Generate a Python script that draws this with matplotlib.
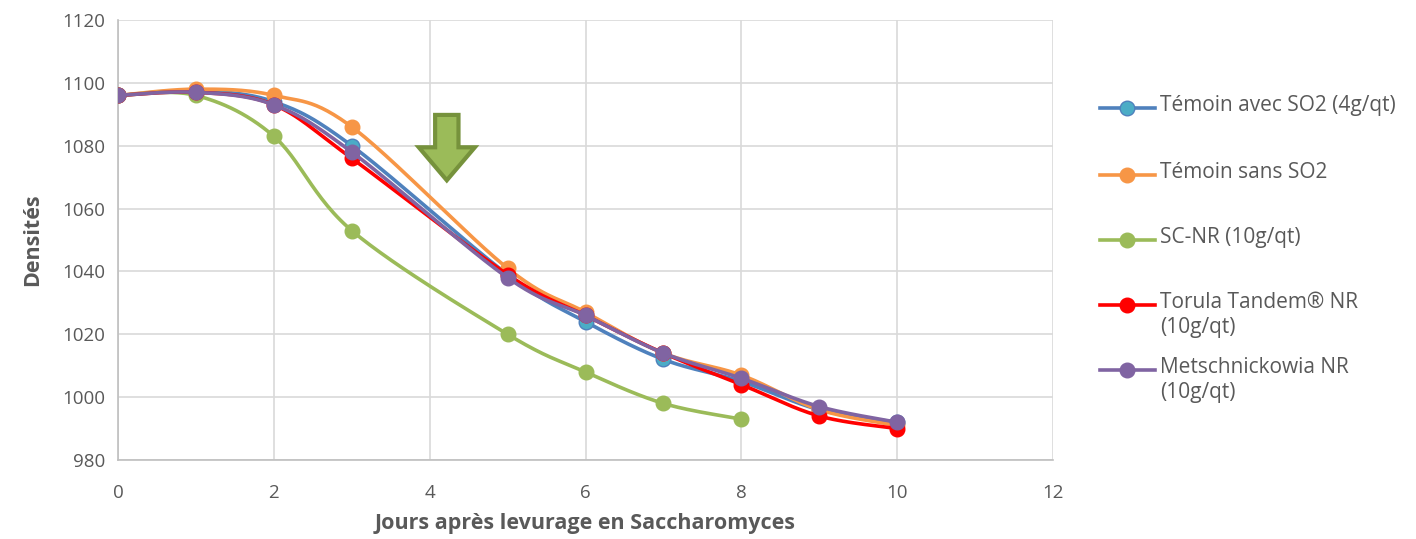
import numpy as np
import matplotlib.pyplot as plt
from matplotlib.lines import Line2D
from matplotlib.patches import Polygon

plt.rcParams['font.family'] = ['Open Sans', 'DejaVu Sans']

# jours et densités
jours = [0, 1, 2, 3, 5, 6, 7, 8, 9, 10]
jours_scnr = [0, 1, 2, 3, 5, 6, 7, 8]
temoin_so2 = [1096, 1097.5, 1094, 1080, 1039, 1024, 1012, 1005, 996, 992]
temoin_sans = [1096, 1098, 1096, 1086, 1041, 1027, 1014, 1007, 996, 991]
sc_nr = [1096, 1096, 1083, 1053, 1020, 1008, 998, 993]
torula = [1096, 1097, 1093, 1076, 1039, 1026, 1014, 1004, 994, 990]
metsch = [1096, 1097, 1093, 1078, 1038, 1026, 1014, 1006, 997, 992]

noms = ['Témoin avec SO2 (4g/qt)', 'Témoin sans SO2', 'SC-NR (10g/qt)',
        'Torula Tandem® NR\n(10g/qt)', 'Metschnickowia NR\n(10g/qt)']
couleurs = ['#4f81bd', '#f79646', '#9bbb59', '#ff0000', '#8064a2']
faces = ['#4bacc6', '#f79646', '#9bbb59', '#ff0000', '#8064a2']


def lissage(x, y, n=30):
    """courbe lissée façon Excel (Bézier, tangentes Catmull-Rom)"""
    x = np.asarray(x, float)
    y = np.asarray(y, float)
    px, py = [], []
    for i in range(len(x) - 1):
        x0, y0 = x[max(i - 1, 0)], y[max(i - 1, 0)]
        x3, y3 = x[min(i + 2, len(x) - 1)], y[min(i + 2, len(x) - 1)]
        c1x = x[i] + (x[i + 1] - x0) / 6
        c1y = y[i] + (y[i + 1] - y0) / 6
        c2x = x[i + 1] - (x3 - x[i]) / 6
        c2y = y[i + 1] - (y3 - y[i]) / 6
        t = np.linspace(0, 1, n)
        px.append((1 - t) ** 3 * x[i] + 3 * (1 - t) ** 2 * t * c1x + 3 * (1 - t) * t ** 2 * c2x + t ** 3 * x[i + 1])
        py.append((1 - t) ** 3 * y[i] + 3 * (1 - t) ** 2 * t * c1y + 3 * (1 - t) * t ** 2 * c2y + t ** 3 * y[i + 1])
    return np.concatenate(px), np.concatenate(py)


fig = plt.figure(figsize=(14.16, 5.39), dpi=100)
ax = fig.add_axes([118 / 1416, 1 - 460 / 539, (1053 - 118) / 1416, 440 / 539])

series = [(jours, temoin_so2), (jours, temoin_sans), (jours_scnr, sc_nr), (jours, torula), (jours, metsch)]
for k, (x, y) in enumerate(series):
    sx, sy = lissage(x, y)
    ax.plot(sx, sy, color=couleurs[k], lw=2.6, zorder=3 + k, solid_capstyle='round')
    ax.plot(x, y, ls='none', marker='o', ms=10.5, mfc=faces[k], mec=couleurs[k], mew=1, zorder=3 + k)

# flèche
fl = np.array([[4.07, 1089.8], [4.37, 1089.8], [4.37, 1079.5], [4.58, 1079.5],
               [4.22, 1069], [3.86, 1079.5], [4.07, 1079.5]])
ax.add_patch(Polygon(fl, closed=True, fc='#9bbb59', ec='#76923c', lw=3, zorder=10))

ax.set_xlim(0, 12)
ax.set_ylim(980, 1120)
ax.set_xticks(range(0, 13, 2))
ax.set_yticks(range(980, 1121, 20))
ax.grid(True, color='#d9d9d9', lw=1.2)
ax.set_axisbelow(True)
for s in ['top', 'right']:
    ax.spines[s].set_visible(False)
for s in ['left', 'bottom']:
    ax.spines[s].set_color('#bfbfbf')
    ax.spines[s].set_linewidth(1.2)
ax.tick_params(length=0, labelsize=13.5, colors='#595959')
ax.tick_params(axis='x', pad=17)
ax.tick_params(axis='y', pad=9)
ax.set_xlabel('Jours après levurage en Saccharomyces', fontsize=15.5, fontweight='bold',
              color='#595959', labelpad=8)
ax.set_ylabel('Densités', fontsize=15.5, fontweight='bold', color='#595959', labelpad=14)

# légende
pos_y = [108, 175, 240, 305, 370]
for k in range(5):
    yf = 1 - pos_y[k] / 539
    fig.add_artist(Line2D([1100 / 1416, 1155 / 1416], [yf, yf], color=couleurs[k], lw=2.6,
                          transform=fig.transFigure))
    fig.add_artist(Line2D([1127 / 1416], [yf], marker='o', ms=10.5, mfc=faces[k], mec=couleurs[k],
                          mew=1, transform=fig.transFigure))
    fig.text(1160 / 1416, yf + 13 / 539, noms[k], fontsize=15, color='#595959', va='top',
             linespacing=1.25)

fig.savefig('out.png', dpi=100)
